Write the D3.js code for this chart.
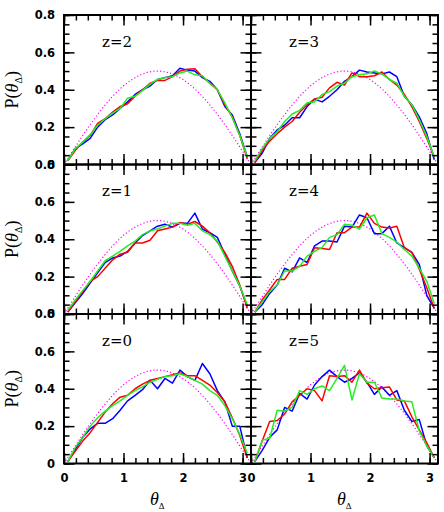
<!DOCTYPE html>
<html>
<head>
<meta charset="utf-8">
<script src="https://cdn.jsdelivr.net/npm/d3@7"></script>
<style>
  body { margin: 0; background: #fff; }
</style>
</head>
<body>
<div id="chart"></div>
<script>
// bin centres of the measured distributions (25 bins over 0..pi)
const thetaBins = [0.063, 0.188, 0.314, 0.440, 0.565, 0.691, 0.817, 0.942, 1.068, 1.194, 1.319, 1.445, 1.571,
  1.696, 1.822, 1.948, 2.073, 2.199, 2.325, 2.450, 2.576, 2.702, 2.827, 2.953, 3.079];

// z = 2
const blueZ2 = [0.02, 0.085, 0.11, 0.14, 0.20, 0.24, 0.265, 0.30, 0.335, 0.375, 0.40, 0.42, 0.455, 0.465, 0.475, 0.515, 0.505, 0.50, 0.465, 0.445, 0.40, 0.31, 0.265, 0.165, 0.04];
const redZ2 = [0.02, 0.075, 0.12, 0.155, 0.22, 0.245, 0.28, 0.31, 0.325, 0.365, 0.40, 0.435, 0.45, 0.45, 0.47, 0.50, 0.51, 0.512, 0.47, 0.435, 0.40, 0.32, 0.255, 0.155, 0.03];
const greenZ2 = [0.02, 0.085, 0.12, 0.16, 0.21, 0.245, 0.275, 0.30, 0.355, 0.365, 0.395, 0.43, 0.455, 0.465, 0.47, 0.49, 0.50, 0.48, 0.475, 0.435, 0.40, 0.33, 0.25, 0.155, 0.04];
// z = 3
const blueZ3 = [0.01, 0.06, 0.14, 0.185, 0.21, 0.25, 0.25, 0.31, 0.35, 0.335, 0.365, 0.40, 0.445, 0.47, 0.505, 0.495, 0.49, 0.485, 0.495, 0.47, 0.365, 0.32, 0.255, 0.165, 0.025];
const redZ3 = [0.01, 0.075, 0.125, 0.165, 0.20, 0.23, 0.28, 0.32, 0.35, 0.36, 0.41, 0.44, 0.425, 0.49, 0.47, 0.47, 0.475, 0.495, 0.455, 0.425, 0.375, 0.31, 0.23, 0.14, 0.04];
const greenZ3 = [0.02, 0.085, 0.14, 0.175, 0.23, 0.27, 0.29, 0.33, 0.335, 0.375, 0.39, 0.42, 0.435, 0.47, 0.48, 0.485, 0.50, 0.485, 0.455, 0.435, 0.365, 0.32, 0.24, 0.15, 0.04];
// z = 1
const blueZ1 = [0.01, 0.06, 0.11, 0.165, 0.22, 0.275, 0.30, 0.31, 0.335, 0.38, 0.42, 0.445, 0.47, 0.48, 0.465, 0.485, 0.485, 0.54, 0.455, 0.435, 0.41, 0.32, 0.23, 0.15, 0.04];
const redZ1 = [0.01, 0.065, 0.12, 0.175, 0.20, 0.245, 0.29, 0.32, 0.33, 0.38, 0.38, 0.395, 0.445, 0.455, 0.465, 0.49, 0.48, 0.495, 0.47, 0.435, 0.385, 0.33, 0.255, 0.155, 0.03];
const greenZ1 = [0.02, 0.075, 0.125, 0.175, 0.23, 0.285, 0.31, 0.335, 0.365, 0.39, 0.425, 0.445, 0.455, 0.47, 0.485, 0.485, 0.475, 0.485, 0.445, 0.425, 0.39, 0.31, 0.23, 0.15, 0.05];
// z = 4
const blueZ4 = [0.01, 0.05, 0.11, 0.155, 0.245, 0.225, 0.30, 0.275, 0.365, 0.39, 0.39, 0.385, 0.47, 0.465, 0.53, 0.515, 0.43, 0.43, 0.47, 0.38, 0.355, 0.33, 0.265, 0.10, 0.03];
const redZ4 = [0.01, 0.075, 0.13, 0.185, 0.185, 0.245, 0.255, 0.265, 0.355, 0.35, 0.345, 0.435, 0.435, 0.465, 0.465, 0.54, 0.485, 0.465, 0.46, 0.47, 0.355, 0.33, 0.24, 0.14, 0.03];
const greenZ4 = [0.01, 0.065, 0.12, 0.155, 0.23, 0.23, 0.255, 0.31, 0.335, 0.355, 0.41, 0.425, 0.48, 0.475, 0.455, 0.515, 0.53, 0.43, 0.41, 0.385, 0.345, 0.31, 0.245, 0.175, 0.055];
// z = 0
const blueZ0 = [0.01, 0.075, 0.14, 0.185, 0.215, 0.215, 0.24, 0.285, 0.335, 0.365, 0.395, 0.445, 0.40, 0.455, 0.43, 0.50, 0.465, 0.445, 0.535, 0.48, 0.39, 0.33, 0.20, 0.20, 0.03];
const redZ0 = [0.01, 0.065, 0.12, 0.165, 0.22, 0.275, 0.32, 0.355, 0.365, 0.40, 0.425, 0.445, 0.455, 0.465, 0.475, 0.485, 0.47, 0.47, 0.445, 0.42, 0.38, 0.33, 0.245, 0.15, 0.03];
const greenZ0 = [0.01, 0.085, 0.14, 0.20, 0.245, 0.28, 0.31, 0.335, 0.365, 0.39, 0.41, 0.435, 0.45, 0.465, 0.47, 0.48, 0.465, 0.445, 0.425, 0.39, 0.365, 0.31, 0.24, 0.155, 0.055];
// z = 5
const blueZ5 = [0.01, 0.07, 0.14, 0.18, 0.30, 0.28, 0.375, 0.345, 0.42, 0.465, 0.50, 0.465, 0.435, 0.455, 0.485, 0.435, 0.37, 0.41, 0.365, 0.39, 0.285, 0.225, 0.235, 0.095, 0.03];
const redZ5 = [0.01, 0.12, 0.225, 0.23, 0.265, 0.33, 0.365, 0.40, 0.39, 0.335, 0.47, 0.465, 0.47, 0.435, 0.50, 0.43, 0.40, 0.405, 0.41, 0.34, 0.335, 0.25, 0.18, 0.11, 0.03];
const greenZ5 = [0.01, 0.125, 0.135, 0.285, 0.28, 0.30, 0.39, 0.37, 0.40, 0.415, 0.39, 0.455, 0.525, 0.34, 0.48, 0.435, 0.435, 0.35, 0.345, 0.345, 0.335, 0.33, 0.175, 0.095, 0.03];

// dotted reference curve (isotropic case)
const refTheta = [0, 0.1, 0.2, 0.3, 0.4, 0.5, 0.6, 0.7, 0.8, 0.9, 1.0, 1.1, 1.2, 1.3, 1.4, 1.5, 1.6, 1.7,
  1.8, 1.9, 2.0, 2.1, 2.2, 2.3, 2.4, 2.5, 2.6, 2.7, 2.8, 2.9, 3.0, 3.1, 3.1416];
const refP = [0, 0.050, 0.099, 0.148, 0.195, 0.240, 0.282, 0.322, 0.359, 0.392, 0.421, 0.446, 0.466, 0.482,
  0.493, 0.499, 0.500, 0.496, 0.487, 0.473, 0.455, 0.432, 0.404, 0.373, 0.338, 0.299, 0.258, 0.214, 0.168,
  0.120, 0.071, 0.021, 0];

const xMajor = [0, 1, 2, 3];
const yMajor = [0, 0.2, 0.4, 0.6, 0.8];
const panelLabels = ["z=2", "z=3", "z=1", "z=4", "z=0", "z=5"];
const seriesColors = ["#0000ff", "#ff0000", "#22ee22"];

let panels = [
  { label: panelLabels[0], col: 0, row: 0, series: [blueZ2, redZ2, greenZ2] },
  { label: panelLabels[1], col: 1, row: 0, series: [blueZ3, redZ3, greenZ3] },
  { label: panelLabels[2], col: 0, row: 1, series: [blueZ1, redZ1, greenZ1] },
  { label: panelLabels[3], col: 1, row: 1, series: [blueZ4, redZ4, greenZ4] },
  { label: panelLabels[4], col: 0, row: 2, series: [blueZ0, redZ0, greenZ0] },
  { label: panelLabels[5], col: 1, row: 2, series: [blueZ5, redZ5, greenZ5] }
];

let chartW = 444, chartH = 512;
let marginLeft = 64, marginTop = 15;
let pw = 187, ph = 149.5;
let majorLen = 10.5, minorLen = 5.5;
let tickFont = "'DejaVu Sans', sans-serif";
let serifFont = "'DejaVu Serif', serif";
let romanFont = "'Liberation Serif', serif";

let svg = d3.select("#chart").append("svg")
  .attr("width", chartW)
  .attr("height", chartH);

let x = d3.scaleLinear().domain([0, Math.PI]).range([0, pw]);
let y = d3.scaleLinear().domain([0, 0.8]).range([ph, 0]);

let xMinor = d3.range(0, 3.15, 0.2).map(d => +d.toFixed(1));
let yMinor = d3.range(0, 0.81, 0.05).map(d => +d.toFixed(2));

let fmtY = d => (d === 0 ? "0" : d3.format(".1f")(d));

function styleAxis(g) {
  g.select(".domain").remove();
  g.selectAll(".tick line").attr("stroke", "#000").attr("stroke-width", 1.5);
  g.selectAll(".tick text")
    .attr("fill", "#000")
    .attr("font-family", tickFont)
    .attr("font-weight", "bold")
    .attr("font-size", 11.5);
}

panels.forEach(p => {
  let g = svg.append("g")
    .attr("transform", `translate(${marginLeft + p.col * pw},${marginTop + p.row * ph})`);

  let line = d3.line()
    .x((d, i) => x(thetaBins[i]))
    .y(d => y(d));

  let refLine = d3.line()
    .x((d, i) => x(refTheta[i]))
    .y(d => y(d));

  g.append("path")
    .attr("d", refLine(refP))
    .attr("fill", "none")
    .attr("stroke", "#ff00ff")
    .attr("stroke-width", 1.2)
    .attr("stroke-dasharray", "1.2 2.2");

  p.series.forEach((s, k) => {
    g.append("path")
      .attr("d", line(s))
      .attr("fill", "none")
      .attr("stroke", seriesColors[k])
      .attr("stroke-width", 1.5)
      .attr("stroke-linejoin", "round");
  });

  // minor ticks on all four sides, pointing inward
  g.append("g").attr("transform", `translate(0,${ph})`)
    .call(d3.axisBottom(x).tickValues(xMinor).tickSize(-minorLen).tickFormat("")).call(styleAxis);
  g.append("g")
    .call(d3.axisTop(x).tickValues(xMinor).tickSize(-minorLen).tickFormat("")).call(styleAxis);
  g.append("g")
    .call(d3.axisLeft(y).tickValues(yMinor).tickSize(-minorLen).tickFormat("")).call(styleAxis);
  g.append("g").attr("transform", `translate(${pw},0)`)
    .call(d3.axisRight(y).tickValues(yMinor).tickSize(-minorLen).tickFormat("")).call(styleAxis);

  // major ticks, labels only on the outer edges
  g.append("g").attr("transform", `translate(0,${ph})`)
    .call(d3.axisBottom(x).tickValues(xMajor).tickSize(-majorLen).tickPadding(10)
      .tickFormat(p.row === 2 ? d3.format("d") : ""))
    .call(styleAxis);
  g.append("g")
    .call(d3.axisTop(x).tickValues(xMajor).tickSize(-majorLen).tickFormat("")).call(styleAxis);
  g.append("g")
    .call(d3.axisLeft(y).tickValues(yMajor).tickSize(-majorLen).tickPadding(9)
      .tickFormat(p.col === 0 ? fmtY : ""))
    .call(styleAxis);
  g.append("g").attr("transform", `translate(${pw},0)`)
    .call(d3.axisRight(y).tickValues(yMajor).tickSize(-majorLen).tickFormat("")).call(styleAxis);

  g.append("rect")
    .attr("width", pw)
    .attr("height", ph)
    .attr("fill", "none")
    .attr("stroke", "#000")
    .attr("stroke-width", 2);

  g.append("text")
    .attr("x", 38)
    .attr("y", 31.5)
    .attr("font-family", serifFont)
    .attr("font-size", 15)
    .text(p.label);

  // y title on the left column
  if (p.col === 0) {
    let t = svg.append("text")
      .attr("transform", `translate(18,${marginTop + p.row * ph + ph / 2}) rotate(-90)`)
      .attr("text-anchor", "middle")
      .attr("font-family", romanFont)
      .attr("font-size", 18);
    t.append("tspan").text("P(");
    t.append("tspan").attr("font-style", "italic").text("θ");
    t.append("tspan").attr("font-size", 10).attr("dy", 4).text("Δ");
    t.append("tspan").attr("dy", -4).text(")");
  }

  // x title on the bottom row
  if (p.row === 2) {
    let t = svg.append("text")
      .attr("x", marginLeft + p.col * pw + 86)
      .attr("y", 505)
      .attr("font-family", romanFont)
      .attr("font-size", 18);
    t.append("tspan").attr("font-style", "italic").text("θ");
    t.append("tspan").attr("font-size", 9).attr("dy", 4).text("Δ");
  }
});
</script>
</body>
</html>
